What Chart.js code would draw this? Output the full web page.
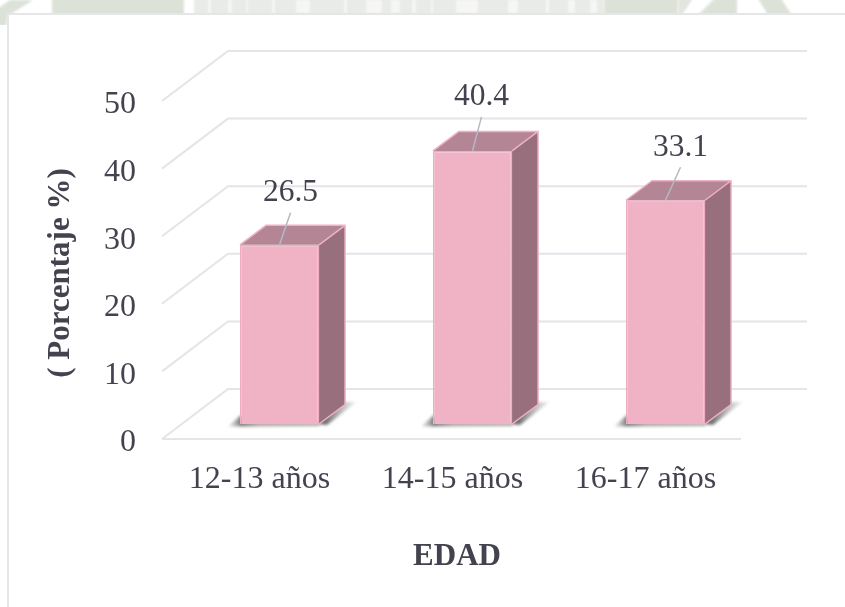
<!DOCTYPE html>
<html>
<head>
<meta charset="utf-8">
<style>
  html, body { margin: 0; padding: 0; background: #fff; }
  canvas { display: block; }
</style>
<script src="https://cdn.jsdelivr.net/npm/chart.js@4"></script>
</head>
<body>
<canvas id="myChart" width="845" height="607"></canvas>
<script>
const categories = ['12-13 años', '14-15 años', '16-17 años'];
const porcentaje = [26.5, 40.4, 33.1];
const yTicks = [0, 10, 20, 30, 40, 50];

const serif = "'Liberation Serif', 'Times New Roman', serif";
const textColor = '#43434f';

// desplazamientos de la falsa perspectiva 3D
const back = { dx: 45, dy: -35 };
const front = { dx: -21, dy: 15 };
const depth = { dx: 26, dy: -19.5 };
const labelShift = [[11, -52], [9, -54], [15, -53]];

function poly(ctx, pts, fill) {
  ctx.beginPath();
  pts.forEach((p, i) => i ? ctx.lineTo(p[0], p[1]) : ctx.moveTo(p[0], p[1]));
  ctx.closePath();
  ctx.fillStyle = fill;
  ctx.fill();
}

const pagina = {
  id: 'pagina',
  beforeDraw(chart) {
    const ctx = chart.ctx;
    ctx.save();
    ctx.fillStyle = '#fff';
    ctx.fillRect(0, 0, 845, 607);
    // marca de agua que asoma arriba
    ctx.save();
    ctx.beginPath();
    ctx.rect(0, 0, 845, 13);
    ctx.rect(0, 13, 8, 12);
    ctx.clip();
    ctx.filter = 'blur(1px)';
    poly(ctx, [[-4, 10], [10, 0], [33, 0], [8, 16], [6, 26], [-4, 26]], '#dde2d9');
    ctx.fillStyle = '#dde2d9';
    ctx.fillRect(52, -3, 132, 18);
    ctx.fillStyle = '#e8ebe7';
    ctx.fillRect(194, -3, 410, 18);
    ctx.fillStyle = '#f6f7f5';
    for (const s of [[208, 3], [228, 4], [246, 2], [272, 3], [296, 14], [344, 3], [366, 16], [391, 9], [412, 4], [431, 2], [456, 22], [508, 10], [546, 3], [568, 7], [590, 7]]) {
      ctx.fillRect(s[0], 0, s[1], 13);
    }
    ctx.fillStyle = '#dde2d9';
    ctx.fillRect(604, -3, 74, 18);
    poly(ctx, [[678, -3], [694, -3], [682, 15], [678, 15]], '#e2e6df');
    poly(ctx, [[698, 15], [716, -3], [737, -3], [737, 15]], '#dde2d9');
    poly(ctx, [[757, -3], [780, -3], [792, 15], [768, 15]], '#dde2d9');
    ctx.restore();
    // marco
    ctx.fillStyle = '#e6e6e8';
    ctx.fillRect(8, 13, 837, 2);
    ctx.fillRect(7, 13, 2, 594);
    ctx.restore();
  }
};

const caja3d = {
  id: 'caja3d',
  beforeDatasetsDraw(chart) {
    const ctx = chart.ctx;
    const y = chart.scales.y;
    const { left, right } = chart.chartArea;
    ctx.save();
    ctx.lineWidth = 2;
    ctx.strokeStyle = '#e4e4e9';
    y.ticks.forEach(t => {
      const py = y.getPixelForValue(t.value);
      ctx.beginPath();
      ctx.moveTo(left + front.dx, py + front.dy);
      ctx.lineTo(left + back.dx, py + back.dy);
      ctx.lineTo(right + back.dx, py + back.dy);
      ctx.stroke();
    });
    const py0 = y.getPixelForValue(0);
    ctx.beginPath();
    ctx.moveTo(left + front.dx, py0 + front.dy);
    ctx.lineTo(right + front.dx, py0 + front.dy);
    ctx.stroke();
    // sombra en el piso
    ctx.filter = 'blur(1.5px)';
    chart.getDatasetMeta(0).data.forEach(bar => {
      const l = bar.x - bar.width / 2, r = bar.x + bar.width / 2, b = bar.base;
      const g = ctx.createLinearGradient(r + 6, 0, r + 38, 0);
      g.addColorStop(0, '#6e6e6e');
      g.addColorStop(1, 'rgba(170,170,170,0.2)');
      poly(ctx, [[r - 2, b], [r + 24, b - 22], [r + 37, b - 22], [r + 8, b + 1]], g);
      const g2 = ctx.createLinearGradient(l - 12, 0, l + 20, 0);
      g2.addColorStop(0, 'rgba(170,170,170,0.2)');
      g2.addColorStop(0.4, '#7c7c7c');
      g2.addColorStop(1, '#b0a4a8');
      poly(ctx, [[l - 12, b + 2.5], [l + 1, b - 9], [l + 4, b - 2], [r, b - 1], [r, b + 2]], g2);
    });
    ctx.restore();
  },
  afterDatasetsDraw(chart) {
    const ctx = chart.ctx;
    ctx.save();
    ctx.lineJoin = 'round';
    chart.getDatasetMeta(0).data.forEach((bar, i) => {
      const l = bar.x - bar.width / 2, r = bar.x + bar.width / 2, t = bar.y, b = bar.base;
      const top = [[l, t], [r, t], [r + depth.dx, t + depth.dy], [l + depth.dx, t + depth.dy]];
      const side = [[r, t], [r + depth.dx, t + depth.dy], [r + depth.dx, b + depth.dy], [r, b]];
      poly(ctx, top, '#b48594');
      poly(ctx, side, '#98707d');
      ctx.strokeStyle = '#efb1c5';
      ctx.lineWidth = 1.5;
      ctx.beginPath();
      ctx.moveTo(l, t);
      ctx.lineTo(l + depth.dx, t + depth.dy);
      ctx.lineTo(r + depth.dx, t + depth.dy);
      ctx.lineTo(r + depth.dx, b + depth.dy);
      ctx.lineTo(r, b);
      ctx.moveTo(r, t);
      ctx.lineTo(r + depth.dx, t + depth.dy);
      ctx.stroke();

      // etiqueta con su linea guia
      const lx = bar.x + labelShift[i][0], ly = t + labelShift[i][1];
      ctx.strokeStyle = '#b3bac2';
      ctx.lineWidth = 1.5;
      ctx.beginPath();
      ctx.moveTo(bar.x, t);
      ctx.lineTo(lx, ly + 20);
      ctx.stroke();
      ctx.fillStyle = textColor;
      ctx.font = '31.5px ' + serif;
      ctx.textAlign = 'center';
      ctx.textBaseline = 'middle';
      ctx.fillText(porcentaje[i].toFixed(1), lx, ly);
    });
    ctx.restore();
  },
  afterDraw(chart) {
    const ctx = chart.ctx;
    ctx.save();
    ctx.fillStyle = textColor;
    ctx.font = 'bold 31px ' + serif;
    ctx.textAlign = 'center';
    ctx.textBaseline = 'middle';
    ctx.fillText('EDAD', 457, 557);
    ctx.translate(61, 273);
    ctx.rotate(-Math.PI / 2);
    ctx.fillText('( Porcentaje %)', 0, 0);
    ctx.restore();
  }
};

new Chart(document.getElementById('myChart'), {
  type: 'bar',
  data: {
    labels: categories,
    datasets: [{
      label: 'Porcentaje',
      data: porcentaje,
      backgroundColor: '#efb3c5',
      borderColor: '#efabc1',
      borderWidth: 1.5,
      barPercentage: 0.41,
      categoryPercentage: 1
    }]
  },
  options: {
    responsive: false,
    animation: false,
    layout: { padding: { top: 86, right: 83, left: 0, bottom: 0 } },
    plugins: { legend: { display: false }, tooltip: { enabled: false } },
    scales: {
      x: {
        grid: { display: false, drawTicks: false },
        border: { display: false },
        afterFit(scale) { scale.height = 183; },
        ticks: {
          color: textColor,
          font: { family: serif, size: 32 },
          padding: 36,
          labelOffset: -20,
          maxRotation: 0
        }
      },
      y: {
        min: 0,
        max: 50,
        grid: { display: false, drawTicks: false },
        border: { display: false },
        afterFit(scale) { scale.width = 183; },
        afterBuildTicks(scale) { scale.ticks = yTicks.map(v => ({ value: v })); },
        ticks: {
          color: textColor,
          font: { family: serif, size: 32 },
          padding: 47,
          labelOffset: 19
        }
      }
    }
  },
  plugins: [pagina, caja3d]
});
</script>
</body>
</html>
